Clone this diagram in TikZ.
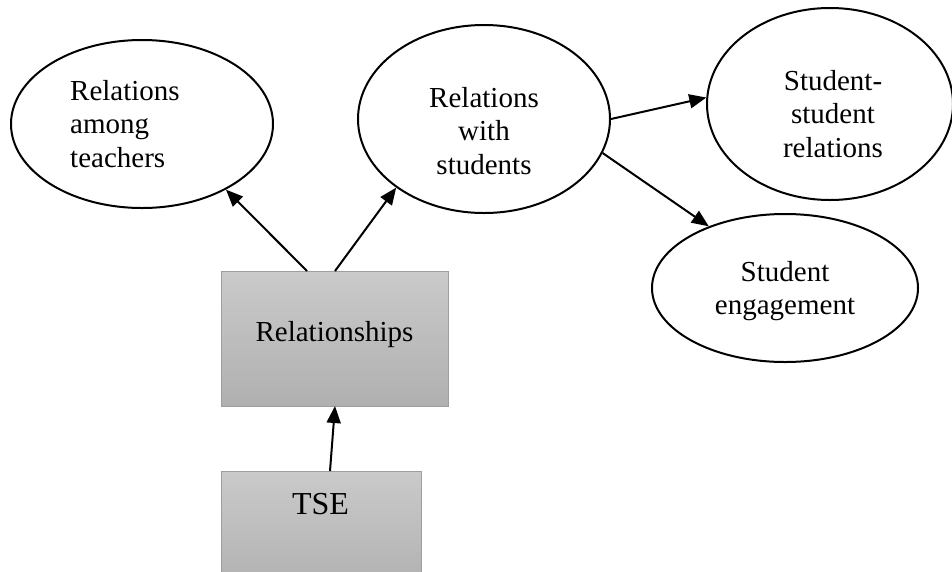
\documentclass[tikz,border=0pt]{standalone}
\usepackage{fontspec}
\setmainfont{Liberation Serif}
\usetikzlibrary{shapes.geometric,arrows.meta}
\definecolor{boxtop}{RGB}{202,202,202}
\definecolor{boxbot}{RGB}{176,176,176}
\definecolor{boxline}{RGB}{158,158,158}
\begin{document}
\begin{tikzpicture}[x=1pt,y=-1pt,
  oval/.style={ellipse,draw,line width=2pt,inner sep=0pt},
  lbl/.style={align=center,font=\fontsize{29}{33.5}\selectfont,inner sep=0pt},
  greybox/.style={draw=boxline,line width=1pt,top color=boxtop,bottom color=boxbot,inner sep=0pt},
  arr/.style={line width=2pt,-{Triangle[length=17pt,width=14pt]}}]
\useasboundingbox (0,0) rectangle (952,571);
\clip (0,0) rectangle (952,571);

% ellipses
\node[oval,minimum width=262pt,minimum height=168pt] (teach) at (142,124) {};
\node[oval,minimum width=252pt,minimum height=188pt] (with) at (484,119) {};
\node[oval,minimum width=246pt,minimum height=192pt] (ss) at (830,104) {};
\node[oval,minimum width=266pt,minimum height=148pt] (eng) at (785,288) {};

% ellipse texts
\node[lbl,align=left,anchor=west] (teachT) at (70,123.6) {Relations\\among\\teachers};
\node[lbl] (withT) at (484,130.6) {Relations\\with\\students};
\node[lbl] (ssT) at (833,113.6) {Student-\\student\\relations};
\node[lbl] (engT) at (785,291) {Student\\engagement};

% shaded boxes
\node[greybox,minimum width=227pt,minimum height=135pt] (rel) at (334.5,338.5) {};
\node[greybox,minimum width=200pt,minimum height=120pt] (tse) at (321,531) {};
\node[font=\fontsize{29}{34}\selectfont,inner sep=0pt] (relT) at (334.5,335) {Relationships};
\node[font=\fontsize{32}{38}\selectfont,inner sep=0pt] (tseT) at (320.5,504.5) {TSE};

% connector end points on the boxes
\coordinate (relA) at (307,271);
\coordinate (relB) at (335,271);
\coordinate (relC) at (335,406);
\coordinate (tseA) at (330,471);

% connectors
\draw[arr] (tseA) -- (relC);
\draw[arr] (relA) -- (teach.-38.5);
\draw[arr] (relB) -- (with.-142.6);
\draw[arr] (with.east) -- (ss.177);
\draw[arr] (with.-16) -- (eng.141);
\end{tikzpicture}
\end{document}
